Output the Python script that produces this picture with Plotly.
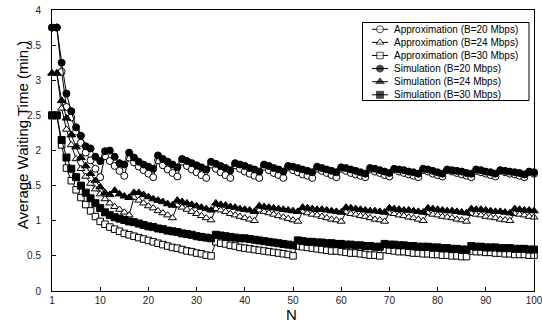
import plotly.graph_objects as go

# category positions (index 0 is labelled "1")
pos = list(range(101))
tick_pos = [0, 10, 20, 30, 40, 50, 60, 70, 80, 90, 100]
tick_text = ["1", "10", "20", "30", "40", "50", "60", "70", "80", "90", "100"]

approx20 = [3.75, 3.75, 3.12, 2.62, 2.47, 2.27, 2.11, 1.97, 1.86, 1.74, 1.62,
            1.92, 1.85, 1.78, 1.71, 1.64,
            1.90, 1.83, 1.77, 1.72, 1.67, 1.62,
            1.86, 1.79, 1.73, 1.68, 1.63,
            1.84, 1.78, 1.73, 1.69, 1.65, 1.61,
            1.80, 1.74, 1.69, 1.65, 1.61,
            1.79, 1.74, 1.70, 1.67, 1.64, 1.61,
            1.77, 1.72, 1.68, 1.65, 1.61,
            1.76, 1.72, 1.69, 1.66, 1.64, 1.61,
            1.74, 1.71, 1.68, 1.65, 1.62,
            1.74, 1.71, 1.68, 1.66, 1.64, 1.62,
            1.73, 1.70, 1.68, 1.65, 1.63,
            1.73, 1.70, 1.68, 1.66, 1.64, 1.62,
            1.72, 1.70, 1.67, 1.65, 1.63,
            1.72, 1.70, 1.68, 1.66, 1.64, 1.62,
            1.71, 1.69, 1.67, 1.65, 1.63,
            1.71, 1.69, 1.67, 1.66, 1.64, 1.62,
            1.69, 1.67]

approx24 = [3.10, 3.10, 2.60, 2.30, 2.08, 1.88, 1.74, 1.63, 1.53, 1.45, 1.38, 1.31, 1.25, 1.20, 1.16, 1.12, 1.08,
            1.33, 1.29, 1.25, 1.21, 1.18, 1.14, 1.11, 1.08, 1.04,
            1.22, 1.19, 1.16, 1.13, 1.10, 1.07, 1.04, 1.01,
            1.17, 1.15, 1.13, 1.10, 1.08, 1.06, 1.04, 1.02, 1.00,
            1.15, 1.13, 1.11, 1.09, 1.07, 1.05, 1.03, 1.01, 0.99,
            1.13, 1.11, 1.09, 1.08, 1.06, 1.04, 1.02, 1.01, 0.99,
            1.12, 1.10, 1.09, 1.07, 1.06, 1.04, 1.02, 1.01, 0.99,
            1.11, 1.10, 1.08, 1.07, 1.05, 1.04, 1.02, 1.00,
            1.11, 1.09, 1.08, 1.06, 1.05, 1.04, 1.02, 1.01, 0.99,
            1.10, 1.09, 1.08, 1.06, 1.05, 1.04, 1.02, 1.01, 1.00,
            1.10, 1.09, 1.08, 1.06, 1.05]

approx30 = [2.50, 2.50, 2.08, 1.75, 1.57, 1.44, 1.33, 1.23, 1.14, 1.06, 0.99, 0.95, 0.91, 0.88, 0.85, 0.82,
            0.80, 0.78, 0.76, 0.74, 0.72, 0.70, 0.68, 0.66, 0.64, 0.62, 0.61, 0.59, 0.57, 0.56, 0.54, 0.53,
            0.51, 0.50,
            0.70, 0.68, 0.67, 0.65, 0.64, 0.62, 0.61, 0.60, 0.59, 0.58, 0.57, 0.56, 0.55, 0.54, 0.53, 0.52, 0.50,
            0.64, 0.63, 0.62, 0.61, 0.60, 0.59, 0.58, 0.57, 0.57, 0.56, 0.55, 0.54, 0.54, 0.53, 0.52, 0.51, 0.51, 0.50,
            0.59, 0.58, 0.57, 0.56, 0.56, 0.55, 0.54, 0.54, 0.53, 0.53, 0.52, 0.52, 0.51, 0.51, 0.50, 0.50, 0.49, 0.49,
            0.57, 0.56, 0.56, 0.55, 0.55, 0.54, 0.54, 0.53, 0.53, 0.52, 0.52, 0.52, 0.51, 0.51]

sim20 = [3.75, 3.75, 3.25, 2.81, 2.56, 2.33, 2.21, 2.06, 2.03, 1.91, 1.85,
         1.99, 2.00, 1.91, 1.82, 1.80,
         1.97, 1.90, 1.84, 1.80, 1.77, 1.74,
         1.93, 1.88, 1.84, 1.80, 1.76,
         1.88, 1.85, 1.82, 1.79, 1.76, 1.73,
         1.84, 1.81, 1.78, 1.75, 1.72,
         1.82, 1.80, 1.78, 1.75, 1.73, 1.70,
         1.80, 1.78, 1.75, 1.73, 1.70,
         1.78, 1.77, 1.75, 1.73, 1.71, 1.69,
         1.77, 1.75, 1.73, 1.71, 1.69,
         1.76, 1.75, 1.73, 1.71, 1.69, 1.67,
         1.75, 1.74, 1.72, 1.70, 1.68,
         1.74, 1.73, 1.72, 1.70, 1.69, 1.67,
         1.74, 1.73, 1.71, 1.69, 1.67,
         1.73, 1.72, 1.71, 1.70, 1.68, 1.67,
         1.73, 1.72, 1.70, 1.69, 1.67,
         1.72, 1.71, 1.70, 1.69, 1.68, 1.66,
         1.70, 1.69]

sim24 = [3.10, 3.10, 2.71, 2.46, 2.22, 2.05, 1.90, 1.78, 1.67, 1.57, 1.48, 1.40, 1.37,
         1.43, 1.38, 1.35, 1.33,
         1.40, 1.40, 1.37, 1.34, 1.31, 1.29, 1.27, 1.24, 1.22,
         1.29, 1.27, 1.25, 1.23, 1.21, 1.19, 1.17, 1.15,
         1.25, 1.23, 1.22, 1.20, 1.19, 1.17, 1.16, 1.15, 1.13,
         1.21, 1.20, 1.19, 1.18, 1.17, 1.16, 1.15, 1.14, 1.13,
         1.19, 1.18, 1.17, 1.16, 1.16, 1.15, 1.14, 1.13, 1.12,
         1.19, 1.18, 1.17, 1.16, 1.15, 1.14, 1.14, 1.13, 1.12,
         1.18, 1.17, 1.16, 1.15, 1.15, 1.14, 1.13, 1.12,
         1.18, 1.17, 1.16, 1.15, 1.14, 1.14, 1.13, 1.12, 1.11,
         1.17, 1.16, 1.16, 1.15, 1.14, 1.13, 1.13, 1.12, 1.11,
         1.17, 1.16, 1.15, 1.15, 1.14]

sim30 = [2.50, 2.50, 2.15, 1.90, 1.74, 1.62, 1.50, 1.40, 1.32, 1.25, 1.18, 1.12, 1.08, 1.05, 1.03, 1.01,
         0.99, 0.98, 0.96, 0.94, 0.92, 0.91, 0.89, 0.88, 0.86, 0.85, 0.84, 0.82, 0.81, 0.80, 0.78, 0.77,
         0.76, 0.75,
         0.80, 0.79, 0.78, 0.77, 0.76, 0.75, 0.75, 0.74, 0.73, 0.72, 0.71, 0.70, 0.69, 0.68, 0.67, 0.66, 0.65,
         0.72, 0.71, 0.70, 0.70, 0.69, 0.69, 0.68, 0.68, 0.67, 0.67, 0.66, 0.66, 0.65, 0.65, 0.64, 0.64, 0.63, 0.63,
         0.67, 0.66, 0.66, 0.65, 0.65, 0.64, 0.64, 0.63, 0.63, 0.63, 0.62, 0.62, 0.61, 0.61, 0.60, 0.60, 0.59, 0.59,
         0.64, 0.63, 0.63, 0.62, 0.62, 0.62, 0.61, 0.61, 0.61, 0.60, 0.60, 0.60, 0.59, 0.59]

series_names = ["Approximation (B=20 Mbps)", "Approximation (B=24 Mbps)", "Approximation (B=30 Mbps)",
                "Simulation (B=20 Mbps)", "Simulation (B=24 Mbps)", "Simulation (B=30 Mbps)"]
series_vals = [approx20, approx24, approx30, sim20, sim24, sim30]
symbols = ["circle-open", "triangle-up-open", "square-open", "circle", "triangle-up", "square"]
sizes = [7, 7, 6.5, 7, 7.5, 7]

FONT = "Liberation Sans, Arial, sans-serif"
fig = go.Figure()

for name, vals, sym, sz in zip(series_names, series_vals, symbols, sizes):
    is_open = sym.endswith("open")
    fig.add_trace(go.Scatter(
        x=pos, y=vals, name=name, mode="lines+markers", showlegend=False,
        cliponaxis=False,
        line=dict(color="black", width=1),
        marker=dict(symbol=sym.replace("-open", ""), size=sz,
                    color="white" if is_open else "black",
                    line=dict(color="black", width=1)),
    ))

# custom compact legend (pixel-like overlay axes)
row_y = [29.3, 42.4, 55.5, 68.6, 81.7, 94.8]
for name, sym, sz, ry in zip(series_names, symbols, sizes, row_y):
    is_open = sym.endswith("open")
    fig.add_trace(go.Scatter(
        x=[372, 380, 388], y=[ry, ry, ry], xaxis="x2", yaxis="y2",
        mode="lines+markers", showlegend=False, hoverinfo="skip", cliponaxis=False,
        line=dict(color="black", width=1),
        marker=dict(symbol=sym.replace("-open", ""), size=[0, sz, 0],
                    color="white" if is_open else "black",
                    line=dict(color="black", width=1)),
    ))
    fig.add_annotation(x=392, y=ry, xref="x2", yref="y2", text=name, showarrow=False,
                       xanchor="left", yanchor="middle",
                       font=dict(family=FONT, size=10, color="black"))

fig.add_shape(type="rect", xref="x2", yref="y2", x0=362.5, x1=529, y0=22.5, y1=100.5,
              line=dict(color="black", width=1), fillcolor="white", layer="below")

fig.add_annotation(x=-0.062, y=0.555, xref="paper", yref="paper",
                   text="Average Waiting Time (min.)", textangle=-90, showarrow=False,
                   xanchor="center", yanchor="middle",
                   font=dict(family=FONT, size=15, color="black"))
fig.add_annotation(x=0.497, y=-0.085, xref="paper", yref="paper",
                   text="N", showarrow=False, xanchor="center", yanchor="middle",
                   font=dict(family=FONT, size=15, color="black"))

fig.update_layout(
    width=542, height=329,
    margin=dict(l=52, r=8, t=10, b=38),
    paper_bgcolor="white", plot_bgcolor="white",
    font=dict(family=FONT, size=10, color="black"),
    xaxis=dict(range=[0, 100], tickvals=tick_pos, ticktext=tick_text,
               showline=True, linecolor="black", linewidth=1, mirror=True,
               ticks="inside", ticklen=4, tickcolor="black",
               showgrid=False, zeroline=False, automargin=False,
               ticklabeloverflow="allow",
               tickfont=dict(family=FONT, size=10, color="#222")),
    yaxis=dict(range=[0, 4], tickvals=[0, 0.5, 1, 1.5, 2, 2.5, 3, 3.5, 4],
               showline=True, linecolor="black", linewidth=1, mirror=True,
               ticks="inside", ticklen=4, tickcolor="black",
               showgrid=False, zeroline=False, ticklabelstandoff=8,
               automargin=False, ticklabeloverflow="allow",
               tickfont=dict(family=FONT, size=10, color="#222")),
    xaxis2=dict(overlaying="x", range=[52, 534], visible=False, fixedrange=True),
    yaxis2=dict(overlaying="y", range=[291, 10], visible=False, fixedrange=True),
)

fig.write_html("out.html")
